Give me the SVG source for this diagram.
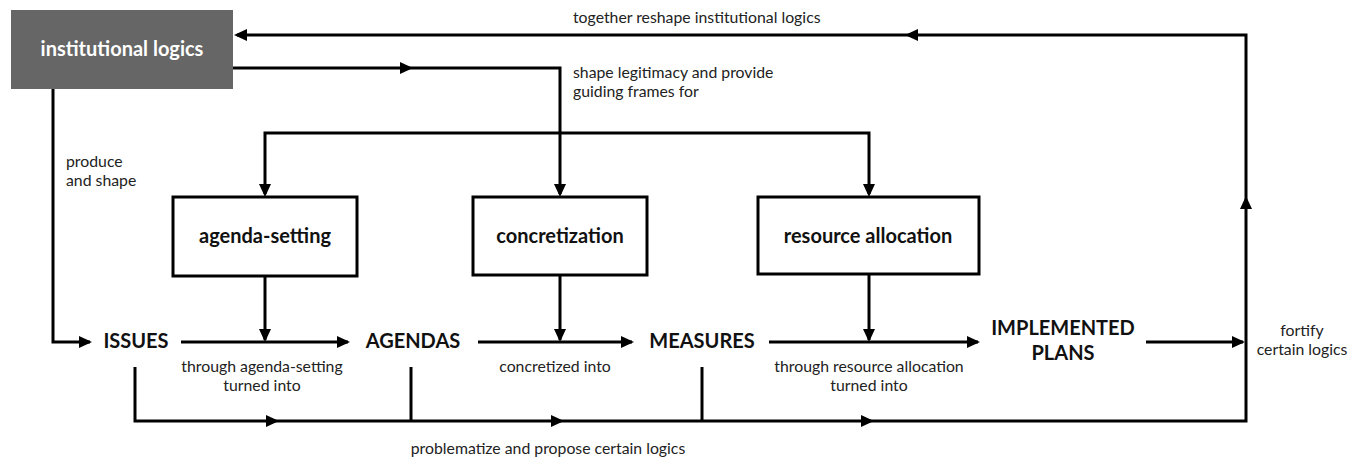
<svg xmlns="http://www.w3.org/2000/svg" width="1364" height="459" viewBox="0 0 1364 459">
<style>
.c{fill:none;stroke:#000;stroke-width:3;}
.box rect{fill:#fff;stroke:#000;stroke-width:3;}
.bl{font-family:Lato,"Liberation Sans",sans-serif;font-weight:700;font-size:20px;fill:#111;text-anchor:middle;}
.st{font-family:Lato,"Liberation Sans",sans-serif;font-weight:700;font-size:20px;fill:#111;text-anchor:middle;}
.lb{font-family:Lato,"Liberation Sans",sans-serif;font-size:15.8px;fill:#222;}
.m{text-anchor:middle;}
</style>
<defs>
<path id="ah" d="M0,0 L-13,-6 L-13,6 Z" fill="#000"/>
</defs>
<g id="connectors">
<path class="c" d="M135,367 V421 H1246 V35 H237"/>
<path class="c" d="M411,367 V421"/>
<path class="c" d="M702,367 V421"/>
<path class="c" d="M233,68 H560 V194"/>
<path class="c" d="M265,194 V133 H869 V194"/>
<path class="c" d="M53,89 V342 H90"/>
<path class="c" d="M181,342 H348"/>
<path class="c" d="M265,276 V340"/>
<path class="c" d="M478,342 H632"/>
<path class="c" d="M560,275 V340"/>
<path class="c" d="M769,342 H978"/>
<path class="c" d="M869,274 V340"/>
<path class="c" d="M1146,342 H1243"/>
<use href="#ah" transform="translate(279,421)"/>
<use href="#ah" transform="translate(564,421)"/>
<use href="#ah" transform="translate(874,421)"/>
<use href="#ah" transform="translate(1246,196) rotate(-90)"/>
<use href="#ah" transform="translate(905,35) rotate(180)"/>
<use href="#ah" transform="translate(234,35) rotate(180)"/>
<use href="#ah" transform="translate(413,68)"/>
<use href="#ah" transform="translate(560,197) rotate(90)"/>
<use href="#ah" transform="translate(265,197) rotate(90)"/>
<use href="#ah" transform="translate(869,197) rotate(90)"/>
<use href="#ah" transform="translate(92,342)"/>
<use href="#ah" transform="translate(350,342)"/>
<use href="#ah" transform="translate(265,342) rotate(90)"/>
<use href="#ah" transform="translate(634,342)"/>
<use href="#ah" transform="translate(560,342) rotate(90)"/>
<use href="#ah" transform="translate(980,342)"/>
<use href="#ah" transform="translate(869,342) rotate(90)"/>
<use href="#ah" transform="translate(1245,342)"/>
</g>
<g id="institutional-logics">
<rect x="11" y="10" width="222" height="79" fill="#666"/>
<text x="122" y="56" class="bl" style="fill:#fff">institutional logics</text>
</g>
<g id="agenda-setting" class="box">
<rect x="173" y="197" width="184" height="79"/>
<text x="265" y="243" class="bl">agenda-setting</text>
</g>
<g id="concretization" class="box">
<rect x="473" y="197" width="174" height="78"/>
<text x="560" y="243" class="bl">concretization</text>
</g>
<g id="resource-allocation" class="box">
<rect x="758" y="197" width="221" height="77"/>
<text x="868" y="243" class="bl">resource allocation</text>
</g>
<g id="issues"><text x="136" y="348" class="st">ISSUES</text></g>
<g id="agendas"><text x="413" y="348" class="st">AGENDAS</text></g>
<g id="measures"><text x="702" y="348" class="st">MEASURES</text></g>
<g id="implemented-plans"><text x="1063" y="335" class="st">IMPLEMENTED</text><text x="1063" y="360" class="st">PLANS</text></g>
<g id="labels">
<text x="573" y="23" class="lb">together reshape institutional logics</text>
<text x="573" y="78" class="lb">shape legitimacy and provide</text>
<text x="573" y="97" class="lb">guiding frames for</text>
<text x="66" y="167" class="lb">produce</text>
<text x="66" y="186" class="lb">and shape</text>
<text x="262" y="372" class="lb m">through agenda-setting</text>
<text x="262" y="391" class="lb m">turned into</text>
<text x="555" y="372" class="lb m">concretized into</text>
<text x="869" y="372" class="lb m">through resource allocation</text>
<text x="869" y="391" class="lb m">turned into</text>
<text x="1302" y="336" class="lb m">fortify</text>
<text x="1302" y="355" class="lb m">certain logics</text>
<text x="548" y="454" class="lb m">problematize and propose certain logics</text>
</g>
</svg>
